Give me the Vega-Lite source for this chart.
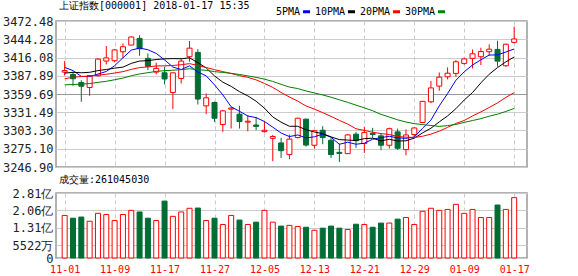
{
  "$schema": "https://vega.github.io/schema/vega-lite/v6.json",
  "background": "#ffffff",
  "padding": {"left": 0, "top": 0, "right": 0, "bottom": 0},
  "spacing": 0,
  "config": {
    "view": {"stroke": "#999999", "strokeWidth": 1.5},
    "font": "DejaVu Sans Mono",
    "title": {"font": "DejaVu Sans Mono", "fontSize": 10, "fontWeight": "normal", "color": "#000000"},
    "axis": {"labelFont": "DejaVu Sans Mono", "labelColor": "#222222", "labelOverlap": false}
  },
  "datasets": {
    "k": [
      {"i":0,"d":"11-01","o":3393.5,"h":3410.6,"l":3388.0,"c":3395.9,"v":1.84,"5PMA":3400.8,"10PMA":3391.9,"20PMA":3383.3,"30PMA":3373.9},
      {"i":1,"d":"11-02","o":3389.9,"h":3394.0,"l":3372.4,"c":3383.3,"v":1.72,"5PMA":3395.9,"10PMA":3393.2,"20PMA":3385.5,"30PMA":3374.3},
      {"i":2,"d":"11-03","o":3377.5,"h":3381.0,"l":3347.6,"c":3371.7,"v":1.77,"5PMA":3386.9,"10PMA":3392.5,"20PMA":3386.7,"30PMA":3374.9},
      {"i":3,"d":"11-06","o":3369.8,"h":3389.0,"l":3356.9,"c":3388.2,"v":1.59,"5PMA":3386.5,"10PMA":3393.2,"20PMA":3387.3,"30PMA":3375.8},
      {"i":4,"d":"11-07","o":3387.8,"h":3415.0,"l":3387.0,"c":3413.6,"v":1.93,"5PMA":3390.5,"10PMA":3395.8,"20PMA":3388.9,"30PMA":3377.7},
      {"i":5,"d":"11-08","o":3410.6,"h":3433.8,"l":3405.4,"c":3415.5,"v":1.88,"5PMA":3394.5,"10PMA":3397.6,"20PMA":3390.2,"30PMA":3379.3},
      {"i":6,"d":"11-09","o":3411.1,"h":3429.0,"l":3408.5,"c":3427.8,"v":1.62,"5PMA":3403.4,"10PMA":3399.6,"20PMA":3392.1,"30PMA":3381.7},
      {"i":7,"d":"11-10","o":3425.0,"h":3437.9,"l":3415.7,"c":3432.7,"v":1.88,"5PMA":3415.6,"10PMA":3401.2,"20PMA":3394.2,"30PMA":3384.3},
      {"i":8,"d":"11-13","o":3435.3,"h":3449.0,"l":3435.0,"c":3447.8,"v":2.06,"5PMA":3427.5,"10PMA":3407.0,"20PMA":3397.7,"30PMA":3387.9},
      {"i":9,"d":"11-14","o":3445.6,"h":3450.5,"l":3418.8,"c":3429.6,"v":1.99,"5PMA":3430.7,"10PMA":3410.6,"20PMA":3400.5,"30PMA":3390.7},
      {"i":10,"d":"11-15","o":3414.7,"h":3422.4,"l":3396.6,"c":3402.5,"v":1.72,"5PMA":3428.1,"10PMA":3411.3,"20PMA":3401.6,"30PMA":3392.6},
      {"i":11,"d":"11-16","o":3393.5,"h":3408.0,"l":3390.0,"c":3399.3,"v":1.62,"5PMA":3422.4,"10PMA":3412.9,"20PMA":3403.0,"30PMA":3394.6},
      {"i":12,"d":"11-17","o":3392.5,"h":3401.8,"l":3374.4,"c":3382.9,"v":2.46,"5PMA":3412.4,"10PMA":3414.0,"20PMA":3403.2,"30PMA":3395.8},
      {"i":13,"d":"11-20","o":3362.1,"h":3393.0,"l":3336.3,"c":3392.4,"v":1.80,"5PMA":3401.3,"10PMA":3414.4,"20PMA":3403.8,"30PMA":3396.4},
      {"i":14,"d":"11-21","o":3383.7,"h":3414.7,"l":3376.0,"c":3410.5,"v":1.99,"5PMA":3397.5,"10PMA":3414.1,"20PMA":3404.9,"30PMA":3397.3},
      {"i":15,"d":"11-22","o":3417.3,"h":3441.5,"l":3409.5,"c":3430.5,"v":2.15,"5PMA":3403.1,"10PMA":3415.6,"20PMA":3406.6,"30PMA":3398.7},
      {"i":16,"d":"11-23","o":3424.0,"h":3429.1,"l":3343.5,"c":3351.9,"v":2.16,"5PMA":3393.6,"10PMA":3408.0,"20PMA":3403.8,"30PMA":3397.4},
      {"i":17,"d":"11-24","o":3341.4,"h":3360.5,"l":3328.5,"c":3353.8,"v":1.62,"5PMA":3387.8,"10PMA":3400.1,"20PMA":3400.7,"30PMA":3396.2},
      {"i":18,"d":"11-27","o":3346.6,"h":3348.0,"l":3316.6,"c":3322.2,"v":1.72,"5PMA":3373.8,"10PMA":3387.6,"20PMA":3397.3,"30PMA":3394.3},
      {"i":19,"d":"11-28","o":3312.5,"h":3335.0,"l":3301.2,"c":3333.7,"v":1.45,"5PMA":3358.4,"10PMA":3378.0,"20PMA":3394.3,"30PMA":3393.0},
      {"i":20,"d":"11-29","o":3336.3,"h":3339.5,"l":3306.3,"c":3337.9,"v":1.84,"5PMA":3339.9,"10PMA":3371.5,"20PMA":3391.4,"30PMA":3391.6},
      {"i":21,"d":"11-30","o":3328.5,"h":3341.4,"l":3306.3,"c":3317.2,"v":1.64,"5PMA":3333.0,"10PMA":3363.3,"20PMA":3388.1,"30PMA":3389.8},
      {"i":22,"d":"12-01","o":3316.2,"h":3327.0,"l":3302.2,"c":3317.6,"v":1.45,"5PMA":3325.7,"10PMA":3356.8,"20PMA":3385.4,"30PMA":3387.7},
      {"i":23,"d":"12-04","o":3311.8,"h":3324.4,"l":3303.7,"c":3309.6,"v":1.55,"5PMA":3323.2,"10PMA":3348.5,"20PMA":3381.5,"30PMA":3385.4},
      {"i":24,"d":"12-05","o":3301.6,"h":3316.6,"l":3300.0,"c":3303.7,"v":2.06,"5PMA":3317.2,"10PMA":3337.8,"20PMA":3376.0,"30PMA":3382.6},
      {"i":25,"d":"12-06","o":3291.2,"h":3296.5,"l":3255.8,"c":3294.0,"v":1.55,"5PMA":3308.4,"10PMA":3324.2,"20PMA":3369.9,"30PMA":3379.1},
      {"i":26,"d":"12-07","o":3284.1,"h":3291.9,"l":3260.9,"c":3272.1,"v":1.38,"5PMA":3299.4,"10PMA":3316.2,"20PMA":3362.1,"30PMA":3374.6},
      {"i":27,"d":"12-08","o":3266.1,"h":3297.0,"l":3258.9,"c":3290.0,"v":1.41,"5PMA":3293.9,"10PMA":3309.8,"20PMA":3355.0,"30PMA":3370.4},
      {"i":28,"d":"12-11","o":3292.5,"h":3323.0,"l":3291.0,"c":3322.2,"v":1.36,"5PMA":3296.4,"10PMA":3309.8,"20PMA":3348.7,"30PMA":3368.1},
      {"i":29,"d":"12-12","o":3320.8,"h":3321.5,"l":3278.5,"c":3280.8,"v":1.33,"5PMA":3291.8,"10PMA":3304.5,"20PMA":3341.2,"30PMA":3364.4},
      {"i":30,"d":"12-13","o":3280.5,"h":3304.0,"l":3275.4,"c":3303.0,"v":1.20,"5PMA":3293.6,"10PMA":3301.0,"20PMA":3336.3,"30PMA":3361.3},
      {"i":31,"d":"12-14","o":3303.7,"h":3310.0,"l":3282.1,"c":3292.4,"v":1.29,"5PMA":3297.7,"10PMA":3298.5,"20PMA":3330.9,"30PMA":3358.2},
      {"i":32,"d":"12-15","o":3288.3,"h":3291.5,"l":3260.9,"c":3266.1,"v":1.38,"5PMA":3292.9,"10PMA":3293.4,"20PMA":3325.1,"30PMA":3354.7},
      {"i":33,"d":"12-18","o":3269.5,"h":3283.1,"l":3254.7,"c":3267.9,"v":1.29,"5PMA":3282.0,"10PMA":3289.2,"20PMA":3318.9,"30PMA":3350.7},
      {"i":34,"d":"12-19","o":3267.6,"h":3298.0,"l":3267.0,"c":3296.5,"v":1.23,"5PMA":3285.2,"10PMA":3288.5,"20PMA":3313.2,"30PMA":3346.8},
      {"i":35,"d":"12-20","o":3297.6,"h":3301.2,"l":3276.4,"c":3287.6,"v":1.46,"5PMA":3282.1,"10PMA":3287.9,"20PMA":3306.0,"30PMA":3342.5},
      {"i":36,"d":"12-21","o":3283.1,"h":3308.9,"l":3268.7,"c":3300.1,"v":1.45,"5PMA":3283.6,"10PMA":3290.7,"20PMA":3303.4,"30PMA":3338.3},
      {"i":37,"d":"12-22","o":3298.8,"h":3307.4,"l":3291.9,"c":3297.1,"v":1.33,"5PMA":3289.8,"10PMA":3291.4,"20PMA":3300.6,"30PMA":3333.8},
      {"i":38,"d":"12-25","o":3295.0,"h":3298.6,"l":3272.8,"c":3280.5,"v":1.51,"5PMA":3292.4,"10PMA":3287.2,"20PMA":3298.5,"30PMA":3328.2},
      {"i":39,"d":"12-26","o":3280.5,"h":3307.8,"l":3275.5,"c":3306.1,"v":1.51,"5PMA":3294.3,"10PMA":3289.7,"20PMA":3297.1,"30PMA":3324.1},
      {"i":40,"d":"12-27","o":3301.2,"h":3306.3,"l":3273.5,"c":3275.8,"v":1.68,"5PMA":3291.9,"10PMA":3287.0,"20PMA":3294.0,"30PMA":3319.8},
      {"i":41,"d":"12-28","o":3273.8,"h":3304.8,"l":3265.0,"c":3296.4,"v":1.75,"5PMA":3291.2,"10PMA":3287.4,"20PMA":3293.0,"30PMA":3316.4},
      {"i":42,"d":"12-29","o":3297.0,"h":3308.0,"l":3292.0,"c":3307.2,"v":1.45,"5PMA":3293.2,"10PMA":3291.5,"20PMA":3292.5,"30PMA":3313.9},
      {"i":43,"d":"01-02","o":3315.6,"h":3349.0,"l":3314.5,"c":3348.3,"v":2.02,"5PMA":3306.8,"10PMA":3299.6,"20PMA":3294.4,"30PMA":3312.4},
      {"i":44,"d":"01-03","o":3347.6,"h":3380.0,"l":3345.5,"c":3369.1,"v":2.15,"5PMA":3319.4,"10PMA":3306.8,"20PMA":3297.7,"30PMA":3311.0},
      {"i":45,"d":"01-04","o":3371.9,"h":3393.0,"l":3364.7,"c":3385.7,"v":2.06,"5PMA":3341.3,"10PMA":3316.6,"20PMA":3302.2,"30PMA":3309.6},
      {"i":46,"d":"01-05","o":3386.3,"h":3400.8,"l":3382.2,"c":3391.8,"v":2.10,"5PMA":3360.4,"10PMA":3325.8,"20PMA":3308.2,"30PMA":3310.9},
      {"i":47,"d":"01-08","o":3391.5,"h":3412.1,"l":3386.3,"c":3409.5,"v":2.32,"5PMA":3380.9,"10PMA":3337.0,"20PMA":3314.2,"30PMA":3312.7},
      {"i":48,"d":"01-09","o":3407.0,"h":3415.8,"l":3405.0,"c":3413.9,"v":1.93,"5PMA":3394.0,"10PMA":3350.4,"20PMA":3318.8,"30PMA":3315.8},
      {"i":49,"d":"01-10","o":3414.7,"h":3428.6,"l":3399.2,"c":3421.8,"v":2.10,"5PMA":3404.5,"10PMA":3362.0,"20PMA":3325.8,"30PMA":3318.7},
      {"i":50,"d":"01-11","o":3417.3,"h":3431.2,"l":3404.4,"c":3425.3,"v":1.75,"5PMA":3412.5,"10PMA":3376.9,"20PMA":3332.0,"30PMA":3321.6},
      {"i":51,"d":"01-12","o":3425.0,"h":3436.4,"l":3418.8,"c":3428.9,"v":1.75,"5PMA":3419.9,"10PMA":3390.2,"20PMA":3338.8,"30PMA":3325.4},
      {"i":52,"d":"01-15","o":3428.6,"h":3442.0,"l":3401.8,"c":3410.5,"v":2.29,"5PMA":3420.1,"10PMA":3400.5,"20PMA":3346.0,"30PMA":3328.5},
      {"i":53,"d":"01-16","o":3403.3,"h":3437.3,"l":3401.8,"c":3436.6,"v":2.10,"5PMA":3424.6,"10PMA":3409.3,"20PMA":3354.4,"30PMA":3332.7},
      {"i":54,"d":"01-17","o":3439.5,"h":3463.7,"l":3438.0,"c":3444.7,"v":2.61,"5PMA":3429.2,"10PMA":3416.9,"20PMA":3361.8,"30PMA":3337.4}
    ]
  },
  "vconcat": [
    {
      "width": 471,
      "height": 146,
      "data": {"name": "k"},
      "title": {"text": "上证指数[000001] 2018-01-17 15:35", "anchor": "start", "frame": "group", "offset": 4, "dx": 3, "fontSize": 10, "fontWeight": "normal", "font": "DejaVu Sans Mono", "color": "#000000"},
      "encoding": {
        "x": {"field": "i", "type": "quantitative", "scale": {"domain": [-0.44, 54.94], "nice": false, "zero": false},
          "axis": {"values": [0, 6, 12, 18, 24, 30, 36, 42, 48, 54], "labels": false, "ticks": false, "domain": false, "grid": true, "gridDash": [4, 3], "gridColor": "#cccccc", "title": null, "minExtent": 0, "maxExtent": 0, "labelPadding": 0}}
      },
      "layer": [
        {
          "mark": {"type": "rule", "strokeWidth": 1},
          "encoding": {
            "y": {"field": "l", "type": "quantitative", "scale": {"domain": [3246.9, 3472.48], "nice": false, "zero": false},
              "axis": {"values": [3246.90, 3275.10, 3303.30, 3331.49, 3359.69, 3387.89, 3416.08, 3444.28, 3472.48], "format": ".2f", "title": null, "ticks": false, "domain": false, "grid": true, "labelOverlap": false, "labelBound": false,
                "gridColor": {"condition": {"test": "abs(datum.value - 3359.69) < 0.01", "value": "#999999"}, "value": "#cccccc"},
                "labelFontSize": 12, "labelPadding": 3, "minExtent": 55, "maxExtent": 55}},
            "y2": {"field": "h"},
            "color": {"condition": {"test": "datum.c >= datum.o", "value": "#ff0000"}, "value": "#006e34"}
          }
        },
        {
          "mark": {"type": "bar", "width": 5, "strokeWidth": 1},
          "encoding": {
            "y": {"field": "o", "type": "quantitative",
              "axis": {"values": [3246.90, 3275.10, 3303.30, 3331.49, 3359.69, 3387.89, 3416.08, 3444.28, 3472.48], "format": ".2f", "title": null, "ticks": false, "domain": false, "grid": true, "labelOverlap": false, "labelBound": false,
                "gridColor": {"condition": {"test": "abs(datum.value - 3359.69) < 0.01", "value": "#999999"}, "value": "#cccccc"},
                "labelFontSize": 12, "labelPadding": 3, "minExtent": 55, "maxExtent": 55}},
            "y2": {"field": "c"},
            "fill": {"condition": {"test": "datum.c >= datum.o", "value": "#ffffff"}, "value": "#006e34"},
            "stroke": {"condition": {"test": "datum.c >= datum.o", "value": "#ff0000"}, "value": "#006e34"}
          }
        },
        {
          "transform": [{"fold": ["5PMA", "10PMA", "20PMA", "30PMA"], "as": ["ma", "mv"]}],
          "mark": {"type": "line", "strokeWidth": 1},
          "encoding": {
            "y": {"field": "mv", "type": "quantitative",
              "axis": {"values": [3246.90, 3275.10, 3303.30, 3331.49, 3359.69, 3387.89, 3416.08, 3444.28, 3472.48], "format": ".2f", "title": null, "ticks": false, "domain": false, "grid": true, "labelOverlap": false, "labelBound": false,
                "gridColor": {"condition": {"test": "abs(datum.value - 3359.69) < 0.01", "value": "#999999"}, "value": "#cccccc"},
                "labelFontSize": 12, "labelPadding": 3, "minExtent": 55, "maxExtent": 55}},
            "color": {"field": "ma", "type": "nominal",
              "scale": {"domain": ["5PMA", "10PMA", "20PMA", "30PMA"], "range": ["#0000ff", "#000000", "#ff0000", "#008000"]},
              "legend": {"orient": "none", "legendX": 245, "legendY": -15, "direction": "horizontal", "title": null, "symbolType": "stroke", "symbolStrokeWidth": 3, "symbolSize": 50, "labelFont": "DejaVu Sans Mono", "labelFontSize": 10, "labelColor": "#000000", "labelAlign": "right", "labelOffset": -12, "columnPadding": -3, "padding": 0}}
          }
        }
      ]
    },
    {
      "width": 471,
      "height": 65,
      "data": {"name": "k"},
      "title": {"text": "成交量:261045030", "anchor": "start", "frame": "group", "offset": 2, "dx": 3, "fontSize": 10, "fontWeight": "normal", "font": "DejaVu Sans Mono", "color": "#000000"},
      "mark": {"type": "bar", "width": 5, "strokeWidth": 1},
      "encoding": {
        "x": {"field": "i", "type": "quantitative", "scale": {"domain": [-0.44, 54.94], "nice": false, "zero": false},
          "axis": {"values": [0, 6, 12, 18, 24, 30, 36, 42, 48, 54],
            "labelExpr": "['11-01','11-09','11-17','11-27','12-05','12-13','12-21','12-29','01-09','01-17'][round(datum.value/6)]",
            "labelColor": "#ff0000", "labelFontSize": 10, "labelFlush": 5, "labelPadding": 6, "ticks": false, "domain": false, "grid": true, "gridDash": [4, 3], "gridColor": "#cccccc", "title": null, "labelOverlap": false}},
        "y": {"field": "v", "type": "quantitative", "scale": {"domain": [0, 2.81], "nice": false, "zero": true},
          "axis": {"values": [0, 0.5522, 1.3056, 2.0578, 2.81],
            "labelExpr": "datum.value == 0 ? '0' : (datum.value < 1 ? '5522万' : format(datum.value, '.2f') + '亿')",
            "title": null, "ticks": false, "domain": false, "grid": true, "gridColor": "#cccccc", "labelFontSize": 12, "labelPadding": 3, "minExtent": 55, "maxExtent": 55, "labelOverlap": false, "labelBound": false}},
        "fill": {"condition": {"test": "datum.c >= datum.o", "value": "#ffffff"}, "value": "#006e34"},
        "stroke": {"condition": {"test": "datum.c >= datum.o", "value": "#ff0000"}, "value": "#006e34"}
      }
    }
  ]
}
